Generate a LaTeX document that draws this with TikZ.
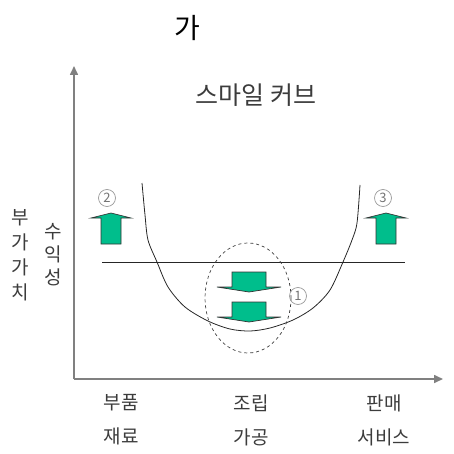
\documentclass[tikz,border=0pt]{standalone}
\usepackage{fontspec}
\newfontfamily\kr{Noto Sans CJK KR}
\usetikzlibrary{arrows.meta}
\definecolor{arrgreen}{RGB}{0,190,140}
\definecolor{txtgray}{RGB}{60,60,60}
\tikzset{
  axis/.style={draw=gray, line width=1.6pt, -{Triangle[length=9pt,width=8pt]}},
  lbl/.style={text=txtgray, align=center, inner sep=0pt},
  num/.style={circle, draw=gray!80, line width=0.7pt, inner sep=0pt, minimum size=17pt, font=\kr\fontsize{13}{13}\selectfont, text=gray!90!black},
  garrow/.style={fill=arrgreen, draw=black!80, line width=0.7pt, line join=miter},
  blockup/.pic={\path[garrow] (-10,0) -- (-10,-26) -- (-20,-26) -- (0,-31) -- (20,-26) -- (10,-26) -- (10,0) -- cycle;},
  blockdown/.pic={\path[garrow] (-17,0) -- (-17,15) -- (-32,15) -- (0,20) -- (32,15) -- (17,15) -- (17,0) -- cycle;}
}
\begin{document}
\begin{tikzpicture}[x=1pt,y=-1pt]
\useasboundingbox (0,0) rectangle (454,454);
\node[font=\kr\fontsize{28}{30}\selectfont, inner sep=0pt] (ga) at (187,28) {가};
\node[font=\kr\fontsize{25}{28}\selectfont, text=txtgray, inner sep=0pt] (title) at (256,95) {스마일 커브};
% axes
\coordinate (o) at (74,379);
\coordinate (ytop) at (74,66);
\coordinate (xend) at (443,379);
\draw[axis] (o) -- (ytop);
\draw[axis] (o) -- (xend);
% horizontal line
\coordinate (hl) at (102,262);
\coordinate (hr) at (405,262);
\draw[line width=0.8pt, black!85] (hl) -- (hr);
% smile curve
\draw[line width=0.8pt, black!85] plot[smooth, tension=0.5] coordinates {(142,183) (145,215) (148,240) (157,262) (168,287) (185,307) (208,321) (230,329) (250,331) (270,328) (293,320) (313,308) (330,290) (343,262) (352,240) (357,223) (360,185)};
% dashed ellipse
\draw[dashed, line width=0.7pt, black!75] (248,298) ellipse [x radius=43, y radius=55];
% arrows
\pic at (111,244) {blockup};
\pic at (386,244) {blockup};
\pic at (249,272) {blockdown};
\pic at (249,302) {blockdown};
% numbers
\node[num] (n2) at (107,198) {2};
\node[num] (n3) at (383,198) {3};
\node[num] (n1) at (298,296) {1};
% y labels
\node[lbl, font=\kr\fontsize{19}{25}\selectfont] (yl1) at (20,255) {부\\가\\가\\치};
\node[lbl, font=\kr\fontsize{19}{23}\selectfont] (yl2) at (53,255) {수\\익\\성};
% x labels
\node[lbl, font=\kr\fontsize{19}{34}\selectfont] (xl1) at (121,420) {부품\\재료};
\node[lbl, font=\kr\fontsize{19}{34}\selectfont] (xl2) at (251,420) {조립\\가공};
\node[lbl, font=\kr\fontsize{19}{34}\selectfont] (xl3) at (384,420) {판매\\서비스};
\end{tikzpicture}
\end{document}
